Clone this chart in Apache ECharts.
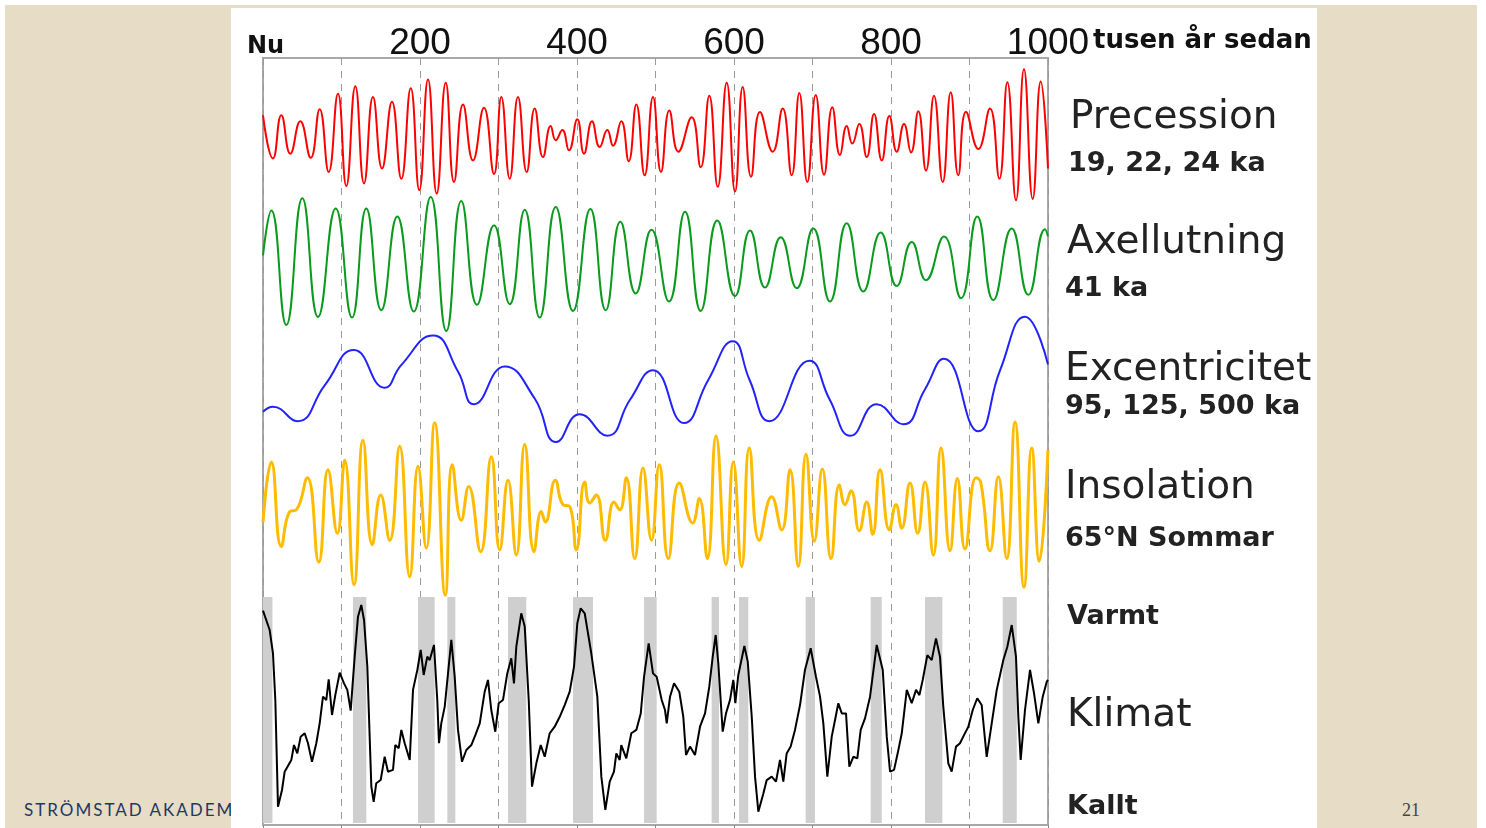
<!DOCTYPE html>
<html>
<head>
<meta charset="utf-8">
<script src="https://cdn.jsdelivr.net/npm/echarts@6/dist/echarts.min.js"></script>
<style>
  body { margin: 0; background: #fff; width: 1486px; height: 828px; overflow: hidden; position: relative; }
  #slide { position: absolute; left: 5px; top: 5px; width: 1472px; height: 823px; background: #e7dcc5; }
  #footer { position: absolute; left: 24px; top: 799px; font: 17px Lato, "Open Sans", sans-serif; letter-spacing: 2px; color: #1f3864; }
  #page { position: absolute; left: 1402px; top: 800px; font: 18px "Liberation Serif", "DejaVu Serif", serif; color: #444; }
  #main { position: absolute; left: 231px; top: 8px; width: 1086px; height: 820px; background: #fff; }
</style>
</head>
<body>
<div id="slide"></div>
<div id="footer">STRÖMSTAD AKADEMI</div>
<div id="page">21</div>
<div id="main"></div>
<script>
// tusen år sedan (ka) och relativa värden
const precT = [0,12.7,23.3,34.8,47.5,60.8,72.2,83.7,95.5,106.1,117.6,128.7,140.1,151.6,164.3,176.2,188.2,199.1,210.2,221.3,232.8,243.3,254.8,267.5,281.5,294.3,303.6,314.3,324.8,335.9,346.1,356.7,366.5,372.9,381.3,389.8,400.4,408.9,419.1,428.9,438.6,445.9,456.4,465.9,475.6,486.2,496.8,507.0,517.6,529.1,546.1,557.6,568.5,579.3,590.7,601.3,611.1,621.7,633.1,649.3,662.0,673.5,683.2,693.4,704.1,714.7,725.2,735.0,743.6,750.7,759.6,769.1,778.4,788.2,797.9,807.3,816.6,825.5,834.8,844.6,854.8,865.9,876.1,885.7,895.6,911.2,926.1,938.0,948.2,959.2,969.4,980.5,990.7,1000]
const precV = [0.30,-0.34,0.30,-0.27,0.21,-0.33,0.39,-0.54,0.62,-0.75,0.73,-0.71,0.57,-0.49,0.50,-0.64,0.70,-0.81,0.83,-0.86,0.78,-0.69,0.46,-0.37,0.41,-0.57,0.57,-0.64,0.57,-0.54,0.40,-0.32,0.14,-0.07,0.08,-0.22,0.24,-0.27,0.21,-0.17,0.08,-0.15,0.21,-0.38,0.46,-0.59,0.57,-0.54,0.37,-0.24,0.27,-0.47,0.59,-0.76,0.78,-0.83,0.72,-0.61,0.35,-0.24,0.40,-0.59,0.63,-0.69,0.60,-0.58,0.42,-0.29,0.14,-0.12,0.17,-0.32,0.32,-0.37,0.29,-0.24,0.17,-0.25,0.36,-0.52,0.59,-0.69,0.64,-0.59,0.35,-0.20,0.40,-0.64,0.79,-0.96,0.98,-0.94,0.80,-0.49]

const oblT = [0,10.6,29.7,50.1,70.1,92.6,113.4,131.6,150.7,171.1,192.0,213.6,233.5,252.6,272.6,294.3,314.3,333.4,352.5,372.9,394.9,417.0,436.6,455.2,474.8,494.9,517.2,537.6,557.6,578.7,601.3,620.4,639.5,659.5,679.9,701.0,722.3,743.6,764.7,786.9,807.3,826.4,844.6,867.5,889.2,909.9,930.3,953.8,974.9,996.2,1000]
const oblV = [0.13,0.80,-0.91,0.98,-0.79,0.83,-0.80,0.83,-0.69,0.71,-0.71,1.00,-1.00,0.94,-0.61,0.58,-0.60,0.81,-0.80,0.85,-0.70,0.82,-0.69,0.63,-0.44,0.51,-0.56,0.78,-0.70,0.65,-0.48,0.50,-0.35,0.40,-0.36,0.53,-0.56,0.61,-0.41,0.47,-0.33,0.33,-0.24,0.41,-0.51,0.71,-0.54,0.53,-0.46,0.52,0.41]

const eccT = [0,12.7,43.7,78.6,115.9,155.0,176,216.6,248.4,268.8,307.9,346.1,373.6,403.4,438.6,467.5,496.8,536.3,567,598.4,620,645.0,695.9,722,748.7,781.8,815.7,843,867.5,911.2,939,970.7,1000]
const eccV = [-0.52,-0.44,-0.67,-0.10,0.46,-0.14,0.22,0.69,0.12,-0.40,0.20,-0.31,-1.00,-0.56,-0.90,-0.33,0.14,-0.70,-0.02,0.60,-0.02,-0.67,0.29,-0.33,-0.90,-0.40,-0.72,-0.17,0.32,-0.83,0.14,0.99,0.23]

const insT = [0,10.6,23.3,34.0,42.4,56.4,71.0,82.8,94.7,104.1,115.9,127.4,139.2,149.9,161.4,174.1,186.9,197.5,208.0,218.7,232.2,241.2,252.6,262.0,277.3,290.8,301.5,312.1,322.7,333.4,345.2,354.5,359.6,372.4,382.2,390.7,399.1,409.8,416.2,424.6,436.1,447.1,454.4,462.8,473.5,484.1,494.9,504.8,516.3,530.3,547.4,555.8,566.0,577.1,589.8,599.1,609.8,619.5,632.2,648.0,660.8,671.4,681.9,691.7,702.3,712.5,723.6,734.2,741.4,749.1,759.6,769.1,776.7,786.0,797.9,806.4,813.6,824.2,834.0,843.3,853.9,863.7,875.2,884.5,894.3,908.3,914.3,926.1,936.7,947.4,958.0,969.4,979.3,988.9,1000]
const insV = [-0.15,0.54,-0.43,-0.03,-0.01,0.36,-0.61,0.45,-0.28,0.56,-0.87,0.79,-0.41,0.16,-0.36,0.72,-0.78,0.49,-0.45,0.99,-0.99,0.51,-0.13,0.26,-0.49,0.60,-0.47,0.33,-0.53,0.74,-0.49,-0.03,-0.15,0.33,0.05,0.03,-0.47,0.31,0.07,0.16,-0.36,0.08,-0.01,0.36,-0.57,0.47,-0.36,0.51,-0.57,0.30,-0.16,0.12,-0.57,0.84,-0.64,0.54,-0.66,0.70,-0.36,0.14,-0.24,0.45,-0.66,0.63,-0.37,0.46,-0.57,0.28,0.05,0.21,-0.25,0.08,-0.29,0.45,-0.24,0.05,-0.22,0.30,-0.28,0.31,-0.53,0.70,-0.48,0.35,-0.46,0.36,0.31,-0.48,0.37,-0.57,1.00,-0.90,0.70,-0.60,0.68]

const climT = [0,8.5,12.7,15.7,19.1,24.2,27.6,36.1,39.5,43.7,48.0,53.1,57.3,62.4,67.9,72.2,76.4,80.6,83.7,87.9,92.1,97.7,103.2,107.4,111.7,116.8,121.0,125.2,128.7,132.9,138.0,141.0,144.3,149.9,155.0,159.2,165.6,168.5,172.9,176.2,180.5,186.9,191.1,196.6,200.9,204.7,209.3,212.4,217.8,222.0,224.2,227.1,231.5,235.7,239.9,244.2,248.4,253.5,259.0,265.4,270.5,276.1,282.4,286.6,290.8,295.9,300.3,305.7,311.2,316.3,319.7,322.7,329.0,333.4,338.5,342.7,348.2,353.8,358.9,365.2,371.6,378.0,384.3,390.7,396.2,400.4,404.7,409.8,418.2,425.9,431.0,436.1,441.7,447.1,450.1,454.4,456.4,462.8,469.2,475.6,481.2,485.4,491.3,496.8,501.5,507.9,512.1,514.3,518.5,523.6,530.3,535.4,538.9,544.0,550.3,556.7,563.1,568.5,572.9,576.7,580.0,585.6,589.8,594.9,599.1,601.7,605.5,613.2,617.5,622.6,626.8,631.0,637.4,641.7,648.0,653.5,658.6,662.8,667.1,672.2,677.7,684.1,690.4,697.7,704.4,709.6,713.8,718.9,724.5,728.7,732.9,737.3,742.7,746.9,752.0,757.1,761.4,766.9,773.3,781.8,789.5,794.6,798.8,803.9,809.4,813.7,820.1,826.4,831.9,836.2,840.4,846.3,851.9,857.3,862.4,866.6,873.0,877.3,882.8,887.9,893.0,898.5,904.1,909.9,915.5,921.9,928.3,934.7,943.1,948.2,953.8,959.2,962.2,965.2,970.7,977.1,982.2,987.7,993.3,998.4,1000]
const climV = [94,85.4,75.1,54.4,7.2,14.6,22.7,27.9,34.5,30.8,38.2,39.7,35.3,27.1,35.3,44.1,55.9,54.4,63.6,47.8,56.6,66.5,61.8,58.9,49.7,73.6,91.3,96.5,89.8,69.2,16.1,9.4,17.6,19.0,29.3,22.7,23.5,34.5,33.1,41.2,35.3,27.9,58.9,67.7,76.6,65.5,73.6,72.1,78.8,54.4,35.3,44.1,51.5,66.2,81.0,64.7,41.2,27.1,32.3,34.5,38.9,44.1,58.1,63.3,50.0,40.4,53.0,54.4,66.2,72.9,61.8,78.0,92.8,86.9,54.4,16.1,26.4,34.5,29.3,39.7,42.6,47.0,52.2,58.1,69.2,88.4,95.0,92.8,75.1,55.9,20.5,5.8,18.3,22.7,30.8,27.9,34.5,28.6,39.7,41.2,48.5,64.7,79.5,66.2,64.7,54.4,50.0,44.1,55.9,61.8,58.1,47.0,30.1,33.8,30.1,42.6,48.5,60.3,73.6,83.2,70.7,40.4,48.5,54.4,63.3,53.0,65.5,78.3,71.4,47.0,20.5,5.0,13.1,19.0,20.5,18.3,27.9,18.3,30.8,33.8,41.2,52.2,67.7,77.3,64.7,55.9,44.1,20.5,38.2,45.6,53.0,48.5,48.5,24.9,29.3,28.6,41.2,46.3,55.9,78.8,67.7,38.2,22.7,23.5,32.3,39.7,58.9,53.0,58.9,56.6,63.3,74.3,72.1,81.7,73.6,51.5,26.4,22.7,33.8,35.3,38.9,42.6,50.0,55.2,52.2,29.3,44.1,58.9,72.1,78.0,87.6,73.6,47.0,27.9,50.0,67.7,57.4,44.1,55.9,62.5,63.3]

// interglacialer (grå fält)
const igStart = [0,114.6,197.5,234.8,312.1,394.9,485.4,571.5,606.4,691.3,774.1,843.3,942.3]
const igEnd = [12,131.6,218.7,245.0,335.4,420.4,501.5,580.9,618.2,703.2,788.2,865.4,960.2]

const zip = (a, b) => a.map((t, i) => [t, b[i]])

const L = 32, W = 785
const bands = [
  { top: 60, height: 135 },   // precession
  { top: 189, height: 134 },  // axellutning
  { top: 308, height: 126 },  // excentricitet
  { top: 414, height: 174 },  // insolation
  { top: 589, height: 226 }   // klimat
]

const grid = [{ left: L, top: 50, width: W, height: 767, show: true, borderColor: '#a8a8a8', borderWidth: 2, backgroundColor: '#fff' }]
  .concat(bands.map(b => ({ left: L, width: W, top: b.top, height: b.height })))

const xAxis = [{
  gridIndex: 0, type: 'value', position: 'top', min: 0, max: 1000, interval: 100,
  axisLine: { lineStyle: { color: '#a8a8a8', width: 2 } },
  axisTick: { inside: true, length: 5, lineStyle: { color: '#888' } },
  splitLine: { show: true, lineStyle: { color: '#9a9a9a', type: [7, 6], width: 1 } },
  axisLabel: {
    margin: -4, showMinLabel: true, showMaxLabel: true,
    fontFamily: '"Liberation Sans Narrow", "Liberation Sans", Arial, sans-serif',
    fontSize: 37, color: '#111',
    formatter: v => v === 0 ? '{nu|Nu}' : (v % 200 === 0 ? String(v) : ''),
    rich: { nu: { fontFamily: 'DejaVu Sans', fontWeight: 'bold', fontSize: 24, color: '#111', padding: [0, 0, 3, 5] } }
  }
}].concat(bands.map((b, i) => ({ gridIndex: i + 1, type: 'value', min: 0, max: 1000, show: false })))

const yAxis = [{ gridIndex: 0, type: 'value', show: false }]
  .concat(bands.map((b, i) => i === 4
    ? { gridIndex: 5, type: 'value', min: 0, max: 100, show: false }
    : { gridIndex: i + 1, type: 'value', min: -1, max: 1, show: false }))

function wave(idx, data, color, width) {
  return {
    type: 'line', xAxisIndex: idx, yAxisIndex: idx, data: data, smooth: 0.5,
    symbol: 'none', clip: false, lineStyle: { color: color, width: width }, z: 3
  }
}

const big = (x, y, text) => ({ type: 'text', left: x, top: y, style: { text: text, fontFamily: 'DejaVu Sans', fontSize: 39, fill: '#222' } })
const small = (x, y, text) => ({ type: 'text', left: x, top: y, style: { text: text, fontFamily: 'DejaVu Sans', fontWeight: 'bold', fontSize: 27, fill: '#222' } })

const chart = echarts.init(document.getElementById('main'))
chart.setOption({
  animation: false,
  grid: grid,
  xAxis: xAxis,
  yAxis: yAxis,
  series: [
    wave(1, zip(precT, precV), '#ff0000', 2),
    wave(2, zip(oblT, oblV), '#0a9a1e', 2),
    wave(3, zip(eccT, eccV), '#2222ff', 2),
    wave(4, zip(insT, insV), '#ffbb00', 3),
    {
      type: 'line', xAxisIndex: 5, yAxisIndex: 5, data: zip(climT, climV),
      symbol: 'none', lineStyle: { color: '#000', width: 2 }, z: 3,
      markArea: {
        silent: true, itemStyle: { color: '#cfcfcf' },
        data: igStart.map((s, i) => [{ xAxis: s }, { xAxis: igEnd[i] }])
      }
    }
  ],
  graphic: [
    { type: 'text', left: 862, top: 20, style: { text: 'tusen år sedan', fontFamily: 'DejaVu Sans', fontWeight: 'bold', fontSize: 26, fill: '#111' } },
    big(839, 90, 'Precession'),
    small(837, 142, '19, 22, 24 ka'),
    big(836, 215, 'Axellutning'),
    small(834, 267, '41 ka'),
    big(834, 342, 'Excentricitet'),
    small(834, 385, '95, 125, 500 ka'),
    big(834, 460, 'Insolation'),
    small(834, 517, '65°N Sommar'),
    small(836, 595, 'Varmt'),
    big(836, 688, 'Klimat'),
    small(836, 785, 'Kallt')
  ]
})
</script>
</body>
</html>
